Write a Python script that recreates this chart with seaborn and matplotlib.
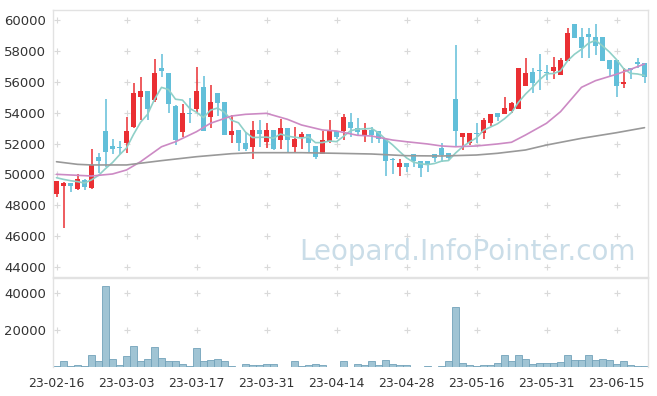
import numpy as np
import pandas as pd
import matplotlib
matplotlib.use("Agg")
import matplotlib.pyplot as plt
import seaborn as sns

# daily candles, 85 trading days (index 0 = 23-02-16)
open_ = [48750, 49270, 49460, 49050, 49640, 49140, 51150, 52810, 51860, 51750,
         52050, 53090, 55030, 55400, 54820, 56890, 56570, 54410, 52770, 53980,
         54240, 55660, 53700, 55270, 54690, 52570, 52880, 52010, 51790, 52880,
         52080, 52880, 52200, 53000, 51790, 52440, 52620, 51840, 51300, 52180,
         52810, 52830, 53390, 53000, 52570, 52880, 52810, 52290, 51000, 50500,
         50720, 51300, 50890, 50890, 51300, 51730, 51370, 54860, 52440, 52010,
         52700, 52660, 53350, 53960, 53910, 54100, 54240, 55750, 56650, 56760,
         56650, 56700, 56440, 57370, 59720, 58920, 59100, 58880, 58880, 57410,
         57410, 55870, 56910, 57220, 57200]
high = [49600, 49500, 49460, 50000, 49700, 51640, 51360, 54860, 52270, 52180,
        53700, 55900, 56290, 55400, 57450, 57780, 56570, 54500, 54580, 54970,
        56940, 56350, 55770, 55270, 54690, 53870, 52880, 52750, 53440, 53520,
        53310, 52880, 53600, 53000, 53090, 52770, 52620, 51840, 52810, 53520,
        52810, 53900, 53960, 53670, 53310, 53090, 52810, 52290, 51040, 50980,
        50720, 51300, 50890, 50890, 51300, 52010, 51370, 58380, 52660, 52700,
        53350, 53630, 53910, 53960, 55000, 54670, 56870, 57560, 56870, 57800,
        57100, 57620, 57560, 59460, 59720, 59460, 59460, 59720, 58880, 57410,
        57410, 56870, 56910, 57560, 57200]
low = [48550, 46500, 48880, 48990, 48990, 49030, 50100, 50500, 51320, 51300,
       51370, 52980, 53520, 53520, 54670, 56330, 53960, 51920, 52440, 53310,
       53960, 52830, 52980, 53780, 52570, 52010, 51530, 51530, 50980, 51790,
       51730, 51580, 51660, 51370, 51370, 51620, 51370, 51000, 51300, 52010,
       52270, 52230, 52440, 52490, 52080, 52010, 52010, 49920, 50000, 49920,
       50180, 50500, 49850, 50180, 50820, 50820, 50940, 51790, 51580, 51900,
       52010, 52270, 53130, 53460, 53910, 53960, 54240, 55750, 55250, 55470,
       56120, 56160, 56440, 57370, 58850, 57560, 57560, 57730, 57370, 56390,
       54990, 55580, 56160, 56870, 55940]
close = [49570, 49460, 49270, 49700, 49200, 50600, 50890, 51470, 51670, 51700,
         52810, 55270, 55400, 54240, 56570, 56700, 54580, 52250, 53960, 53930,
         55400, 52830, 54690, 54630, 52570, 52810, 52010, 51660, 52880, 52640,
         52880, 51660, 53000, 52200, 52290, 52620, 52010, 51150, 52230, 52810,
         52400, 53700, 52980, 52770, 52880, 52570, 52290, 50890, 50950, 50720,
         50500, 50890, 50400, 50650, 51080, 51260, 51080, 52830, 52660, 52660,
         52600, 53520, 53910, 53700, 54280, 54600, 56870, 56550, 55900, 56700,
         56570, 56940, 57410, 59140, 58850, 58170, 58900, 58340, 57370, 56830,
         55750, 56000, 56760, 57180, 56330]
volume = [500, 3060, 300, 1260, 300, 6670, 3060, 43600, 4500, 1260,
          6130, 11530, 3420, 4500, 11000, 5050, 3420, 3420, 1800, 720,
          10450, 3420, 3960, 4500, 3060, 720, 200, 1800, 1260, 1260,
          1800, 1800, 200, 200, 3420, 720, 1260, 1800, 1260, 200,
          200, 3060, 200, 1800, 900, 3060, 900, 3600, 1800, 1260,
          1260, 200, 200, 720, 200, 720, 3060, 32070, 2340, 1260,
          720, 1260, 1260, 2340, 6670, 3060, 6670, 4500, 1800, 2340,
          2340, 2340, 2880, 6670, 3600, 3600, 6670, 3600, 4500, 3960,
          1800, 3060, 1260, 720, 720]

# closes before the window, only used to start the 5-day average
prior_close = [50000, 49700, 50000, 49650]

# 20-day and 60-day averages
ma20_idx = [0, 5, 8, 10, 12, 15, 17, 20, 22, 25, 27, 30, 33, 35, 38, 40, 43, 45,
            48, 50, 53, 55, 57, 60, 63, 65, 67, 70, 72, 75, 77, 80, 82, 84]
ma20_val = [50005, 49895, 50025, 50285, 50820, 51790, 52115, 52765, 53310, 53780,
            53890, 53955, 53565, 53200, 52875, 52810, 52530, 52485, 52225, 52115,
            51970, 51840, 51790, 51840, 51970, 52080, 52550, 53310, 54060, 55640,
            56070, 56485, 56805, 57150]
ma60_idx = [0, 3, 5, 10, 15, 20, 25, 28, 35, 40, 45, 50, 55, 60, 63, 67, 70, 75, 80, 84]
ma60_val = [50820, 50650, 50610, 50610, 50890, 51145, 51340, 51405, 51405, 51365,
            51320, 51210, 51190, 51255, 51365, 51580, 51900, 52335, 52700, 53025]

tick_pos = [0, 10, 20, 30, 40, 50, 60, 70, 80]
tick_labels = ['23-02-16', '23-03-03', '23-03-17', '23-03-31', '23-04-14',
               '23-04-28', '23-05-16', '23-05-31', '23-06-15']
price_ticks = [44000, 46000, 48000, 50000, 52000, 54000, 56000, 58000, 60000]
vol_ticks = [20000, 40000]

sns.set_theme(style="white")
plt.rcParams['font.family'] = ['DejaVu Sans']

df = pd.DataFrame({'o': open_, 'h': high, 'l': low, 'c': close, 'v': volume})
df['i'] = np.arange(len(df))
ma5 = pd.Series(prior_close + close).rolling(5).mean().iloc[len(prior_close):].values

UP = '#ea2f33'
DOWN = '#62bfd9'
GRID = '#d9d9d9'
SPINE = '#e2e2e2'
TXT = '#333333'

fig = plt.figure(figsize=(6.57, 3.96), dpi=100)
ax = fig.add_axes([53/657, 1-277/396, 595/657, 267/396])
axv = fig.add_axes([53/657, 1-367/396, 595/657, 89/396])

# grid crosses
gx, gy = np.meshgrid(tick_pos, price_ticks)
ax.scatter(gx.ravel(), gy.ravel(), marker='+', s=18, color=GRID, linewidths=0.8, zorder=0)
gx, gy = np.meshgrid(tick_pos, vol_ticks)
axv.scatter(gx.ravel(), gy.ravel(), marker='+', s=18, color=GRID, linewidths=0.8, zorder=0)

# watermark
ax.text(0.696, 0.095, 'Leopard.InfoPointer.com', transform=ax.transAxes,
        ha='center', va='center', fontsize=20, color='#cadde8', zorder=1)

# candles
colors = np.where(df['c'] >= df['o'], UP, DOWN)
ax.vlines(df['i'], df['l'], df['h'], colors=colors, linewidth=1.1, zorder=3)
body_lo = np.minimum(df['o'], df['c'])
body_h = np.maximum(np.abs(df['c'] - df['o']), 70)
ax.bar(df['i'], body_h, bottom=body_lo, width=0.72, color=colors, zorder=4, linewidth=0)

# moving averages
sns.lineplot(x=df['i'], y=ma5, ax=ax, color='#8fd0c8', linewidth=1.2, zorder=5)
sns.lineplot(x=ma20_idx, y=ma20_val, ax=ax, color='#cc8ac4', linewidth=1.2, zorder=5)
sns.lineplot(x=ma60_idx, y=ma60_val, ax=ax, color='#999999', linewidth=1.2, zorder=5)

ax.set_xlim(-0.5, 84.5)
ax.set_ylim(43352, 60648)
ax.set_yticks(price_ticks)
ax.set_yticklabels([str(t) for t in price_ticks])
ax.set_xticks([])
ax.set_xlabel('')
ax.set_ylabel('')

# volume
sns.barplot(data=df, x='i', y='v', ax=axv, color='#a0c4d4', saturation=1,
            width=1.0, edgecolor='#72a2ba', linewidth=0.6, zorder=2)
axv.set_xlim(-0.5, 84.5)
axv.set_ylim(0, 47900)
axv.set_yticks(vol_ticks)
axv.set_yticklabels([str(t) for t in vol_ticks])
axv.set_xticks(tick_pos)
axv.set_xticklabels(tick_labels)
axv.set_xlabel('')
axv.set_ylabel('')

for a in (ax, axv):
    for s in a.spines.values():
        s.set_color(SPINE)
        s.set_linewidth(1.0)
    a.tick_params(axis='both', length=0, labelsize=9.5, colors=TXT, pad=5)
axv.tick_params(axis='x', pad=7, labelsize=9)
axv.spines['bottom'].set_visible(False)

fig.savefig('out.png', dpi=100)
